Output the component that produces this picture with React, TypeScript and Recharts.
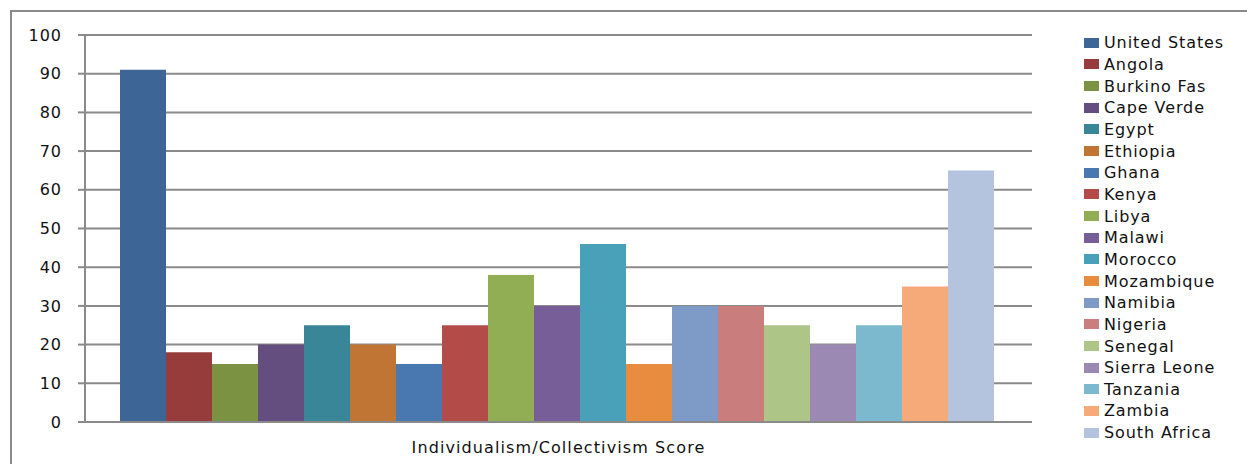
import { BarChart, Bar, XAxis, YAxis, CartesianGrid } from "recharts"

const countries = [
  "United States", "Angola", "Burkino Fas", "Cape Verde", "Egypt", "Ethiopia", "Ghana",
  "Kenya", "Libya", "Malawi", "Morocco", "Mozambique", "Namibia", "Nigeria", "Senegal",
  "Sierra Leone", "Tanzania", "Zambia", "South Africa",
]
const scores = [91, 18, 15, 20, 25, 20, 15, 25, 38, 30, 46, 15, 30, 30, 25, 20, 25, 35, 65]
const colors = [
  "#3D6595", "#963C3A", "#7B9243", "#644E7F", "#3A8699", "#C07534", "#4977AF",
  "#B34B48", "#92AE55", "#775E98", "#48A1B9", "#E88C40", "#7E9BC8", "#C97D7C",
  "#ADC586", "#9C89B3", "#7CB8CE", "#F6A979", "#B4C3DE",
]
const category = "Individualism/Collectivism Score"
const yTicks = [0, 10, 20, 30, 40, 50, 60, 70, 80, 90, 100]

const row: Record<string, string | number> = { name: category }
countries.forEach((c, i) => { row[c] = scores[i] })
const data = [row]

const font = "'DejaVu Sans', sans-serif"
const gray = "#8a8a8a"

// legend kept in series order (recharts' own legend sorts by name)
function SeriesLegend() {
  return (
    <div style={{ position: "absolute", left: 1084, top: 32, fontFamily: font, fontSize: 16, color: "#111" }}>
      {countries.map((c, i) => (
        <div key={c} style={{ display: "flex", alignItems: "center", height: 21.67 }}>
          <span style={{ display: "inline-block", width: 15, height: 10, background: colors[i], marginRight: 5 }} />
          <span style={{ letterSpacing: 0.9, whiteSpace: "nowrap" }}>{c}</span>
        </div>
      ))}
    </div>
  )
}

export default function App() {
  return (
    <div style={{ position: "absolute", left: 0, top: 0, width: 1247, height: 464, background: "#fff", overflow: "hidden" }}>
      <div style={{ position: "absolute", left: 10, top: 10, width: 1300, height: 500, borderLeft: `2px solid ${gray}`, borderTop: `2px solid ${gray}` }} />
      <BarChart
        width={1247}
        height={464}
        data={data}
        margin={{ top: 35, right: 215, bottom: 12, left: 0 }}
        barCategoryGap={35}
        barGap={0}
      >
        <CartesianGrid vertical={false} stroke={gray} strokeWidth={2} />
        <XAxis
          dataKey="name"
          height={30}
          tickLine={false}
          axisLine={{ stroke: gray, strokeWidth: 2 }}
          tickMargin={14}
          tick={{ fill: "#111", fontSize: 16, fontFamily: font, letterSpacing: 1.1 }}
        />
        <YAxis
          width={85}
          domain={[0, 100]}
          ticks={yTicks}
          interval={0}
          tickSize={7}
          tickMargin={16}
          tickLine={{ stroke: gray, strokeWidth: 2 }}
          axisLine={{ stroke: gray, strokeWidth: 2 }}
          tick={{ fill: "#111", fontSize: 16, fontFamily: font, letterSpacing: 1 }}
        />
        {countries.map((c, i) => (
          <Bar key={c} dataKey={c} fill={colors[i]} isAnimationActive={false} />
        ))}
      </BarChart>
      <SeriesLegend />
    </div>
  )
}
